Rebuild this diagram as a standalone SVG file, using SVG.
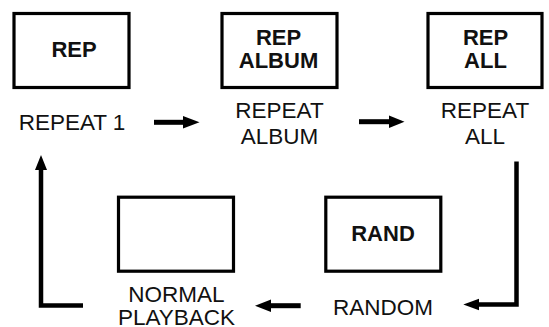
<svg xmlns="http://www.w3.org/2000/svg" width="549" height="327" viewBox="0 0 549 327">
<style>
.box{fill:#fff;stroke:#000;stroke-width:3.2}
.bl{font-family:"Liberation Sans",Arial,sans-serif;font-weight:bold;font-size:22px;fill:#111;text-anchor:middle}
.lb{font-family:"Liberation Sans",Arial,sans-serif;font-size:22.5px;fill:#111;text-anchor:middle}
.ln{fill:none;stroke:#000;stroke-width:4.5}
.sh{fill:none;stroke:#000;stroke-width:5}
.hd{fill:#000}
</style>
<rect width="549" height="327" fill="#fff"/>
<g id="rep1">
<rect class="box" x="14" y="13.5" width="115" height="74"/>
<text class="bl" x="74" y="57">REP</text>
<text class="lb" x="72" y="129.5">REPEAT 1</text>
</g>
<g id="repalbum">
<rect class="box" x="222" y="13.5" width="115" height="74"/>
<text class="bl" x="278.5"><tspan x="278.5" y="45">REP</tspan><tspan x="278.5" y="68">ALBUM</tspan></text>
<text class="lb" x="279.5"><tspan x="279.5" y="118">REPEAT</tspan><tspan x="279.5" y="144">ALBUM</tspan></text>
</g>
<g id="repall">
<rect class="box" x="428" y="13.5" width="114" height="74"/>
<text class="bl" x="485.5"><tspan x="485.5" y="45">REP</tspan><tspan x="485.5" y="68">ALL</tspan></text>
<text class="lb" x="485"><tspan x="485" y="118">REPEAT</tspan><tspan x="485" y="144">ALL</tspan></text>
</g>
<g id="rand">
<rect class="box" x="325.8" y="197.2" width="115" height="74"/>
<text class="bl" x="383" y="241">RAND</text>
<text class="lb" x="383" y="315">RANDOM</text>
</g>
<g id="normal">
<rect class="box" x="118.5" y="197.2" width="115" height="74"/>
<text class="lb" x="176.5"><tspan x="176.5" y="302">NORMAL</tspan><tspan x="176.5" y="324.5">PLAYBACK</tspan></text>
</g>
<g id="connectors">
<line class="sh" x1="154" y1="122.3" x2="185" y2="122.3"/>
<polygon class="hd" points="183,116 199.5,122.3 183,128.6"/>
<line class="sh" x1="359" y1="121.7" x2="391" y2="121.7"/>
<polygon class="hd" points="389,115.4 404.5,121.7 389,128"/>
<polyline class="ln" points="516.5,161.5 516.5,304.5 477,304.5"/>
<polygon class="hd" points="479,298.8 463.3,304.5 479,310.2"/>
<line class="sh" x1="300.7" y1="305.7" x2="269" y2="305.7"/>
<polygon class="hd" points="271,299.5 255,305.7 271,311.9"/>
<polyline class="ln" points="83,305.5 41,305.5 41,168"/>
<polygon class="hd" points="35,170 41,155 47,170"/>
</g>
</svg>
